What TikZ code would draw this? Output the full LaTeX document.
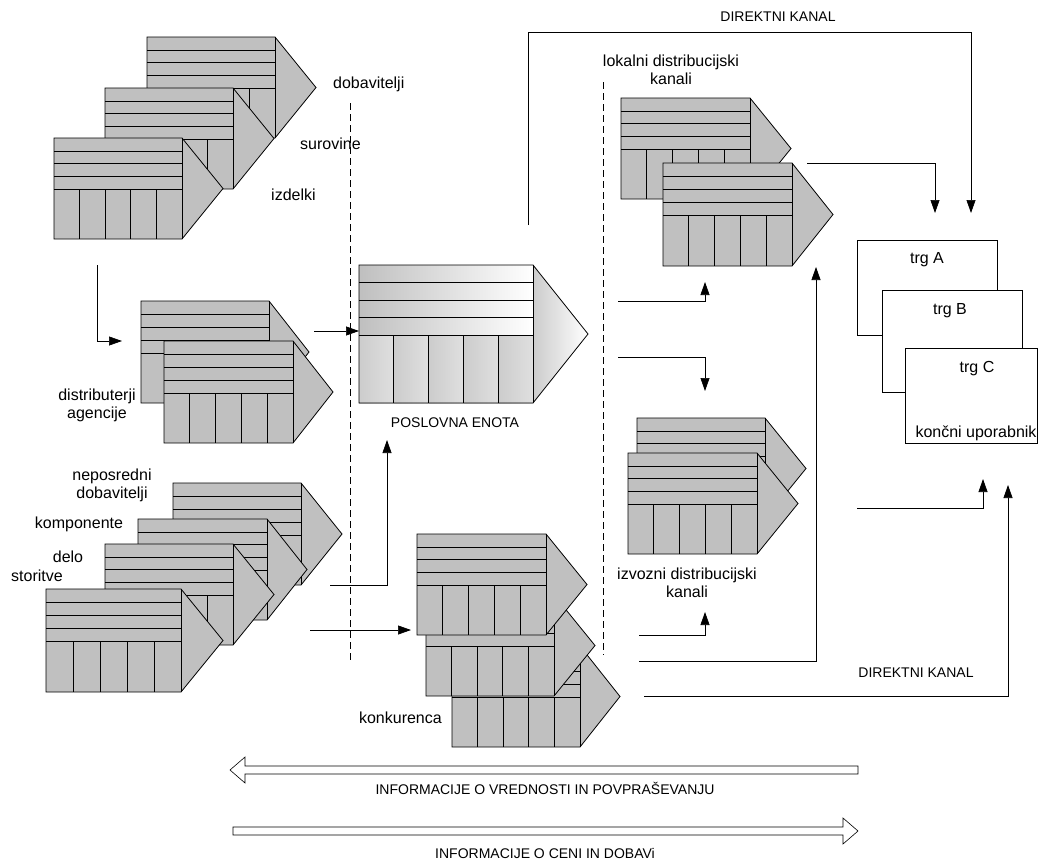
\documentclass[tikz,border=0pt]{standalone}
\usepackage{fontspec}
\setmainfont{Liberation Sans}
\usetikzlibrary{arrows.meta}

\definecolor{chaingray}{RGB}{192,192,192}

\tikzset{
  chainfill/.style={fill=chaingray, draw=black, line width=0.8pt, line join=miter},
  chainline/.style={draw=black, line width=0.8pt},
  conn/.style={draw=black, line width=0.7pt},
  arr/.style={conn, -{Triangle[length=13pt,width=9pt]}},
  divider/.style={draw=black, line width=0.7pt, dash pattern=on 7pt off 4pt},
  market/.style={draw=black, fill=white, line width=0.7pt},
  lbl/.style={font=\fontsize{16}{19}\selectfont, inner sep=0pt},
  caps/.style={font=\fontsize{14}{17}\selectfont, inner sep=0pt},
  infoarrow/.style={draw=black, fill=white, line width=0.6pt},
}

% value chain: top-left corner (#1,#2), body width #3, height #4, point depth #5
\newcommand{\valuechain}[5]{%
  \filldraw[chainfill] (#1,#2) -- ++(#3,0) -- ++(#5,{#4/2}) -- ++(-#5,{#4/2}) -- ++(-#3,0) -- cycle;
  \foreach \k in {1,2,3,4}
    \draw[chainline] (#1,{#2+\k*0.128*#4}) -- ++(#3,0);
  \foreach \k in {1,2,3,4}
    \draw[chainline] ({#1+\k*#3/5},{#2+0.512*#4}) -- ({#1+\k*#3/5},{#2+#4});
  \draw[chainline] ({#1+#3},#2) -- ++(0,#4);
}

\begin{document}
\begin{tikzpicture}[x=1pt,y=-1pt]
\useasboundingbox (0,0) rectangle (1038,865);

% dividers
\draw[divider] (350,103) -- (350,660);
\draw[divider] (603,82) -- (603,655);

% suppliers (raw materials, products)
\valuechain{147}{37}{128}{101}{41}
\valuechain{105}{88}{128}{101}{41}
\valuechain{54}{138}{128}{101}{41}
\node[lbl, anchor=base west] (dob) at (333,88) {dobavitelji};
\node[lbl, anchor=base west] (sur) at (300,149) {surovine};
\node[lbl, anchor=base west] (izd) at (271,200) {izdelki};

% distributors / agencies
\valuechain{141}{301}{128}{102}{40}
\valuechain{164}{341}{129}{102}{40}
\node[lbl, anchor=base] (dist1) at (97,400) {distributerji};
\node[lbl, anchor=base] (dist2) at (97,418) {agencije};

% direct suppliers
\valuechain{173}{483}{128}{102}{41}
\valuechain{138}{519}{129}{101}{40}
\valuechain{105}{544}{128}{101}{41}
\valuechain{46}{589}{135}{103}{42}
\node[lbl, anchor=base] (nep1) at (112,480) {neposredni};
\node[lbl, anchor=base] (nep2) at (112,498) {dobavitelji};
\node[lbl, anchor=base] (komp) at (79,528) {komponente};
\node[lbl, anchor=base] (delo) at (68,562) {delo};
\node[lbl, anchor=base] (stor) at (37,581) {storitve};

% business unit (shaded)
\foreach \k in {0,1,2,3}
  \shade[left color=gray!50, right color=white] (359,{265+\k*17.5}) rectangle ++(174,17.5);
\foreach \k in {0,1,2,3,4}
  \shade[left color=gray!40, middle color=white, right color=gray!25] ({359+\k*34.8},335) rectangle ++(34.8,68);
\shade[left color=gray!40, right color=white] (533,265) -- (588,334) -- (533,403) -- cycle;
\draw[chainline] (359,265) -- (533,265) -- (588,334) -- (533,403) -- (359,403) -- cycle;
\foreach \k in {1,2,3,4}
  \draw[chainline] (359,{265+\k*17.5}) -- ++(174,0);
\foreach \k in {1,2,3,4}
  \draw[chainline] ({359+\k*34.8},335) -- ++(0,68);
\draw[chainline] (533,265) -- (533,403);
\node[caps, anchor=base] (pe) at (455,427) {POSLOVNA ENOTA};

% competitors
\valuechain{452}{646}{128}{101}{40}
\valuechain{426}{595}{128}{101}{41}
\valuechain{417}{534}{129}{101}{41}
\node[lbl, anchor=base east] (konk) at (442,723) {konkurenca};

% local distribution channels
\valuechain{621}{98}{129}{101}{41}
\valuechain{663}{163}{129}{103}{41}
\node[lbl, anchor=base] (lok1) at (671,66) {lokalni distribucijski};
\node[lbl, anchor=base] (lok2) at (671,84) {kanali};

% export distribution channels
\valuechain{637}{418}{128}{101}{41}
\valuechain{628}{453}{129}{101}{41}
\node[lbl, anchor=base] (izv1) at (687,579) {izvozni distribucijski};
\node[lbl, anchor=base] (izv2) at (687,597) {kanali};

% markets
\draw[market] (857,240) rectangle (997,335);
\draw[market] (882,290) rectangle (1022,392);
\draw[market] (905,348) rectangle (1037,443);
\node[lbl, anchor=base] (trgA) at (927,263) {trg A};
\node[lbl, anchor=base] (trgB) at (950,314) {trg B};
\node[lbl, anchor=base] (trgC) at (977,372) {trg C};
\node[lbl, anchor=base] (kon) at (976,437) {končni uporabnik};

\node[caps, anchor=base] (dk1) at (778,21) {DIREKTNI KANAL};
\node[caps, anchor=base] (dk2) at (916,677) {DIREKTNI KANAL};

% connector end points
\coordinate (supOut) at (97,265);
\coordinate (distIn) at (122,341);
\coordinate (distOut) at (314,331);
\coordinate (peIn) at (359,331);
\coordinate (nepOut) at (330,585);
\coordinate (peBottom) at (387,440);
\coordinate (nepOut2) at (310,630);
\coordinate (konkIn) at (411,630);
\coordinate (dirTopS) at (528,225);
\coordinate (dirTopE) at (971,213);
\coordinate (lokOut) at (807,163);
\coordinate (mktA1) at (935,213);
\coordinate (lokS) at (618,301);
\coordinate (lokIn) at (705,282);
\coordinate (izvS) at (618,357);
\coordinate (izvIn) at (705,391);
\coordinate (kS1) at (639,661);
\coordinate (lokIn2) at (816,267);
\coordinate (kS2) at (639,635);
\coordinate (izvIn2) at (705,612);
\coordinate (izvOut) at (857,508);
\coordinate (mktC1) at (983,479);
\coordinate (dirBotS) at (644,696);
\coordinate (mktC2) at (1008,485);

\draw[arr] (supOut) |- (distIn);
\draw[arr] (distOut) -- (peIn);
\draw[arr] (nepOut) -| (peBottom);
\draw[arr] (nepOut2) -- (konkIn);
\draw[arr] (dirTopS) -- (528,32) -| (dirTopE);
\draw[arr] (lokOut) -| (mktA1);
\draw[arr] (lokS) -| (lokIn);
\draw[arr] (izvS) -| (izvIn);
\draw[arr] (kS1) -| (lokIn2);
\draw[arr] (kS2) -| (izvIn2);
\draw[arr] (izvOut) -| (mktC1);
\draw[arr] (dirBotS) -| (mktC2);

% information flows
\draw[infoarrow] (858,766) -- (245,766) -- (245,757) -- (230,770) -- (245,783) -- (245,774) -- (858,774) -- cycle;
\node[caps, anchor=base] (info1) at (545,794) {INFORMACIJE O VREDNOSTI IN POVPRAŠEVANJU};
\draw[infoarrow] (233,827) -- (843,827) -- (843,818) -- (858,831) -- (843,844) -- (843,835) -- (233,835) -- cycle;
\node[caps, anchor=base] (info2) at (545,858) {INFORMACIJE O CENI IN DOBAVi};
\end{tikzpicture}
\end{document}
